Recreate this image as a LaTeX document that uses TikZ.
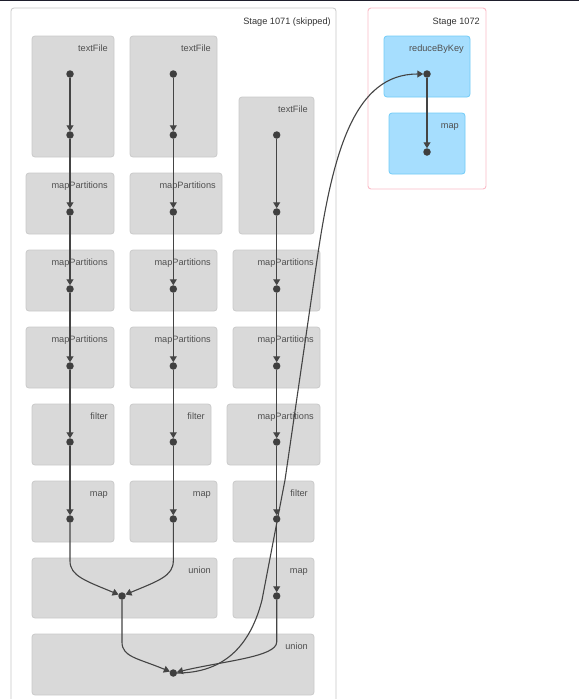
\documentclass[tikz,border=0pt]{standalone}
\usepackage{fontspec}
\setmainfont{Liberation Sans}
\usetikzlibrary{arrows.meta,calc}
\definecolor{boxfill}{HTML}{D9D9D9}
\definecolor{boxdraw}{HTML}{CACACA}
\definecolor{bluefill}{HTML}{A6DEFE}
\definecolor{bluedraw}{HTML}{72CCF8}
\definecolor{pinkdraw}{HTML}{FBBCC8}
\definecolor{stagedraw}{HTML}{C8C8C8}
\definecolor{dotcol}{HTML}{3F3F3F}
\definecolor{edgecol}{HTML}{444444}
\definecolor{labelcol}{HTML}{505050}
\definecolor{topbar}{HTML}{1E1E2C}
\newcommand\mybox[7]{%
  \node[#7, minimum width={#4-#2}, minimum height={#5-#3}] (#1) at ({(#2+#4)/2},{(#3+#5)/2}) {};
  \node[lbl, anchor=base east] (#1-l) at ($(#1.north east)+(-6,15)$) {#6};}
\begin{document}
\begin{tikzpicture}[x=1pt,y=-1pt,
  opbox/.style={draw=boxdraw, fill=boxfill, line width=0.8pt, rounded corners=3pt, inner sep=0pt, outer sep=0pt},
  bluebox/.style={draw=bluedraw, fill=bluefill, line width=0.8pt, rounded corners=3pt, inner sep=0pt, outer sep=0pt},
  stagebox/.style={draw=stagedraw, fill=white, line width=0.8pt, rounded corners=3pt, inner sep=0pt, outer sep=0pt},
  pinkbox/.style={draw=pinkdraw, fill=white, line width=0.9pt, rounded corners=3pt, inner sep=0pt, outer sep=0pt},
  lbl/.style={text=labelcol, font=\fontsize{9.2}{10}\selectfont, inner sep=0pt},
  stagelbl/.style={text=black!80, font=\fontsize{9.2}{10}\selectfont, inner sep=0pt},
  dot/.style={circle, fill=dotcol, inner sep=0pt, minimum size=7.5pt, outer sep=0pt},
  edge/.style={draw=edgecol, line width=1.1pt, -{Triangle[width=7pt,length=6pt]}},
]
\useasboundingbox (0,0) rectangle (579,699);
\clip (0,0) rectangle (579,699);
\fill[white] (0,0) rectangle (579,699);
\fill[topbar] (0,0) rectangle (579,1.2);

% stages
\node[stagebox, minimum width=325, minimum height=720, anchor=north west] (s1) at (11,8) {};
\node[stagelbl, anchor=base east] (s1l) at (331,24) {Stage 1071 (skipped)};
\node[pinkbox, minimum width=118, minimum height=181, anchor=north west] (s2) at (368,8) {};
\node[stagelbl, anchor=base east] (s2l) at (480,24.5) {Stage 1072};

% column 1
\mybox{a1}{32}{36}{114}{157}{textFile}{opbox}
\mybox{a2}{26}{173}{114}{234}{mapPartitions}{opbox}
\mybox{a3}{26}{250}{114}{311}{mapPartitions}{opbox}
\mybox{a4}{26}{327}{114}{388}{mapPartitions}{opbox}
\mybox{a5}{32}{404}{114}{465}{filter}{opbox}
\mybox{a6}{32}{481}{114}{542}{map}{opbox}
% column 2
\mybox{b1}{130}{36}{217}{157}{textFile}{opbox}
\mybox{b2}{130}{173}{222}{234}{mapPartitions}{opbox}
\mybox{b3}{130}{250}{217}{311}{mapPartitions}{opbox}
\mybox{b4}{130}{327}{217}{388}{mapPartitions}{opbox}
\mybox{b5}{130}{404}{211}{465}{filter}{opbox}
\mybox{b6}{130}{481}{217}{542}{map}{opbox}
% column 3
\mybox{c1}{239}{97}{314}{234}{textFile}{opbox}
\mybox{c3}{233}{250}{320}{311}{mapPartitions}{opbox}
\mybox{c4}{233}{327}{320}{388}{mapPartitions}{opbox}
\mybox{c5}{227}{404}{320}{465}{mapPartitions}{opbox}
\mybox{c6}{233}{481}{314}{542}{filter}{opbox}
\mybox{c7}{233}{558}{314}{618}{map}{opbox}
% unions
\mybox{u1b}{32}{558}{217}{618}{union}{opbox}
\mybox{u2b}{32}{634}{314}{695}{union}{opbox}
% stage 1072
\mybox{rkb}{384}{36}{470}{97}{reduceByKey}{bluebox}
\mybox{mpb}{389}{113}{465}{174}{map}{bluebox}

% dots
\node[dot] (da0) at (70,74) {};
\node[dot] (da1) at (70,135) {};
\node[dot] (da2) at (70,212) {};
\node[dot] (da3) at (70,289) {};
\node[dot] (da4) at (70,366) {};
\node[dot] (da5) at (70,442) {};
\node[dot] (da6) at (70,519) {};
\node[dot] (db0) at (173.3,74) {};
\node[dot] (db1) at (173.3,135) {};
\node[dot] (db2) at (173.3,212) {};
\node[dot] (db3) at (173.3,289) {};
\node[dot] (db4) at (173.3,366) {};
\node[dot] (db5) at (173.3,442) {};
\node[dot] (db6) at (173.3,519) {};
\node[dot] (dc1) at (276.7,135) {};
\node[dot] (dc2) at (276.7,212) {};
\node[dot] (dc3) at (276.7,289) {};
\node[dot] (dc4) at (276.7,366) {};
\node[dot] (dc5) at (276.7,442) {};
\node[dot] (dc6) at (276.7,519) {};
\node[dot] (dc7) at (276.7,596) {};
\node[dot] (du1) at (122,596) {};
\node[dot] (du2) at (173.3,673) {};
\node[dot] (drk) at (427,74) {};
\node[dot] (dmp) at (427,152) {};

% straight edges
\foreach \c in {a,b}{
  \foreach \i [evaluate=\i as \j using int(\i+1)] in {0,...,5}{
    \draw[edge] (d\c\i) -- (d\c\j);
  }
}
\foreach \i [evaluate=\i as \j using int(\i+1)] in {1,...,6}{
  \draw[edge] (dc\i) -- (dc\j);
}
\draw[edge] (drk) -- (dmp);

% curved edges
\draw[edge] (da6) -- ++(0,42) .. controls +(0,15) and +(-36,-15) .. (du1);
\draw[edge] (db6) -- ++(0,42) .. controls +(0,15) and +(36,-15) .. (du1);
\draw[edge] (du1) -- ++(0,46) .. controls +(0,15) and +(-36,-15) .. (du2);
\draw[edge] (dc7) -- ++(0,46) .. controls +(0,15) and +(50,-12) .. (du2);
\coordinate (k1) at (262,600);
\coordinate (k2) at (285,480);
\coordinate (k3) at (317,260);
\draw[edge] (du2) .. controls +(42,0) and +(-14,55) .. (k1) -- (k2) -- (k3)
  .. controls +(16,-110) and +(-72,0) .. (drk);
\end{tikzpicture}
\end{document}
